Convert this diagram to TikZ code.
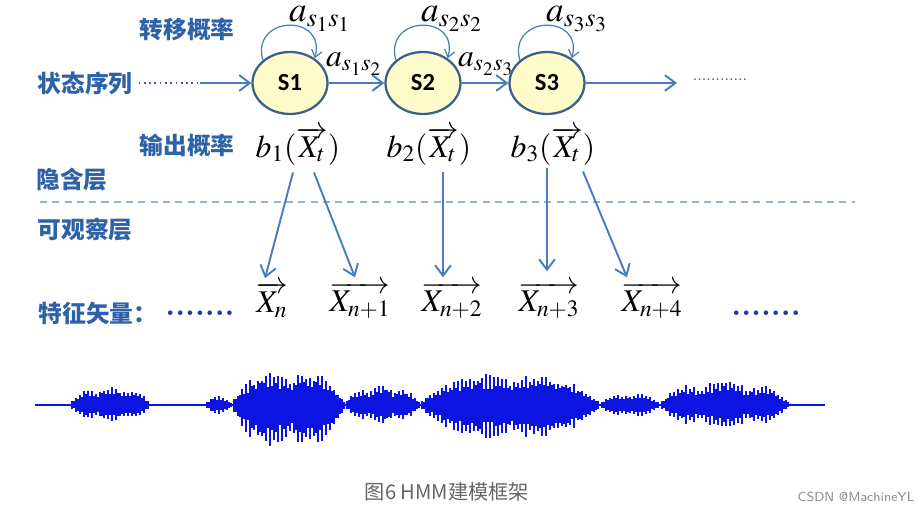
\documentclass[tikz,border=0pt]{standalone}
\usepackage{mathptmx}
\usepackage[no-math]{fontspec}
\usetikzlibrary{shapes.geometric,arrows.meta}
\newfontfamily\cjk{Noto Sans CJK SC}
\newfontfamily\stfont{Carlito}
\definecolor{labblue}{RGB}{46,98,168}
\definecolor{arrblue}{RGB}{74,126,187}
\definecolor{linblue}{RGB}{60,95,140}
\definecolor{dotblue}{RGB}{30,60,160}
\definecolor{wavblue}{RGB}{12,20,225}
\tikzset{
  >={Straight Barb[length=6pt,width=9pt]},
  layer/.style={text=labblue,font=\cjk\bfseries\fontsize{13.5}{16}\selectfont},
  state/.style={ellipse,draw=linblue,line width=1.3pt,fill=yellow!20,minimum width=1.5cm,minimum height=1.24cm,inner sep=0pt,font=\stfont\bfseries\fontsize{14}{16}\selectfont},
  prob/.style={inner sep=0pt,font=\fontsize{18}{22}\selectfont},
  feat/.style={inner sep=1pt,font=\fontsize{18}{22}\selectfont},
  flow/.style={->,draw=arrblue,line width=1.1pt},
  selfloop/.style={->,draw=arrblue,line width=0.7pt},
  wave/.style={draw=wavblue,line width=0.9pt}
}
\begin{document}
\begin{tikzpicture}[x=0.02cm,y=-0.02cm]
\useasboundingbox (0,0) rectangle (917,513);
% left column labels
\node[layer] (trans) at (187,30) {转移概率};
\node[layer] (seq) at (85,83) {状态序列};
\node[layer] (emit) at (187,145) {输出概率};
\node[layer] (hidden) at (72,180) {隐含层};
\node[layer] (obs) at (85,230) {可观察层};
\node[layer] (vec) at (98,313) {特征矢量：};
\draw[dashed,draw=arrblue!60,line width=0.8pt,dash pattern=on 4pt off 3pt] (40,202) -- (855,202);

% hidden states
\node[state] (s1) at (290,83) {S1};
\node[state] (s2) at (423,83) {S2};
\node[state] (s3) at (547,83) {S3};
\coordinate (in0) at (200,83);
\coordinate (out0) at (677,83);
\draw[dotted,draw=linblue,line width=1pt] (seq.east) -- (in0);
\draw[flow] (in0) -- (s1);
\draw[flow] (s1) -- (s2);
\draw[flow] (s2) -- (s3);
\draw[flow] (s3) -- (out0);
\node[text=black!70,font=\fontsize{9}{10}\selectfont] (more) at (720,80) {............};
\foreach \s in {s1,s2,s3}
  \draw[selfloop,>={Straight Barb[length=4pt,width=6pt]}] (\s.140) to[out=105,in=75,looseness=2.3] (\s.45);
\node[prob,font=\fontsize{20}{24}\selectfont] (a11) at (320,19) {$a_{s_1s_1}$};
\node[prob,font=\fontsize{20}{24}\selectfont] (a22) at (452,19) {$a_{s_2s_2}$};
\node[prob,font=\fontsize{20}{24}\selectfont] (a33) at (577,19) {$a_{s_3s_3}$};
\node[prob] (a12) at (354,64) {$a_{s_1s_2}$};
\node[prob] (a23) at (486,64) {$a_{s_2s_3}$};

% output probabilities
\node[prob] (b1) at (298,146) {$b_1(\overrightarrow{X_t})$};
\node[prob] (b2) at (429,146) {$b_2(\overrightarrow{X_t})$};
\node[prob] (b3) at (553,146) {$b_3(\overrightarrow{X_t})$};

% feature vectors
\node[feat] (x0) at (272,300) {$\overrightarrow{X_n}$};
\node[feat] (x1) at (360,300) {$\overrightarrow{X_{n+1}}$};
\node[feat] (x2) at (452,300) {$\overrightarrow{X_{n+2}}$};
\node[feat] (x3) at (549,300) {$\overrightarrow{X_{n+3}}$};
\node[feat] (x4) at (652,300) {$\overrightarrow{X_{n+4}}$};
\node[text=dotblue,font=\bfseries\fontsize{18}{20}\selectfont] (dl) at (200,313) {.......};
\node[text=dotblue,font=\bfseries\fontsize{18}{20}\selectfont] (dr) at (766,313) {.......};
\draw[flow] ([shift={(-5,7)}]b1.south) -- ([shift={(-7,-2)}]x0.north);
\draw[flow] ([shift={(16,7)}]b1.south) -- ([shift={(-5,-2)}]x1.north);
\draw[flow] ([shift={(14,7)}]b2.south) -- ([shift={(-9,-2)}]x2.north);
\draw[flow] ([shift={(-6,3)}]b3.south) -- ([shift={(-2,-8)}]x3.north);
\draw[flow] ([shift={(30,6)}]b3.south) -- ([shift={(-25,-2)}]x4.north);

% speech waveform
\draw[wave,line width=1.6pt] (35,405) -- (825,405);
\pgfmathsetseed{11}
\foreach \xa/\xb/\up/\dn/\nb in {70/150/21/19/3,205/232/10/10/1,232/345/38/48/2,345/420/22/20/3,420/600/35/38/2,600/660/13/13/2,660/790/27/25/3}{
  \pgfmathtruncatemacro\n{(\xb-\xa)/2}
  \foreach \i in {0,...,\n}{
    \pgfmathsetmacro\x{\xa+2*\i}
    \pgfmathsetmacro\t{(\x-\xa)/(\xb-\xa)}
    \pgfmathsetmacro\e{sqrt(abs(sin(180*\t)))*(0.7+0.3*abs(sin(180*\nb*\t)))}
    \pgfmathsetmacro\c{0.5+0.2*rnd}
    \pgfmathsetmacro\r{0.7+0.3*rnd}
    \draw[wave,line width=1.3pt] (\x,{405-\c*\up*\e}) -- (\x,{405+\c*\dn*\e});
    \ifodd\i
      \draw[wave] (\x,{405-\r*\up*\e}) -- (\x,{405+\r*\dn*\e});
    \fi
  }
}
\node[text=black!60,font=\cjk\fontsize{11.5}{14}\selectfont] (cap) at (447,492) {图6 HMM建模框架};
\node[text=black!45,font=\fontsize{7.5}{9}\selectfont\sffamily] (mark) at (856,497) {CSDN @MachineYL};
\end{tikzpicture}
\end{document}
